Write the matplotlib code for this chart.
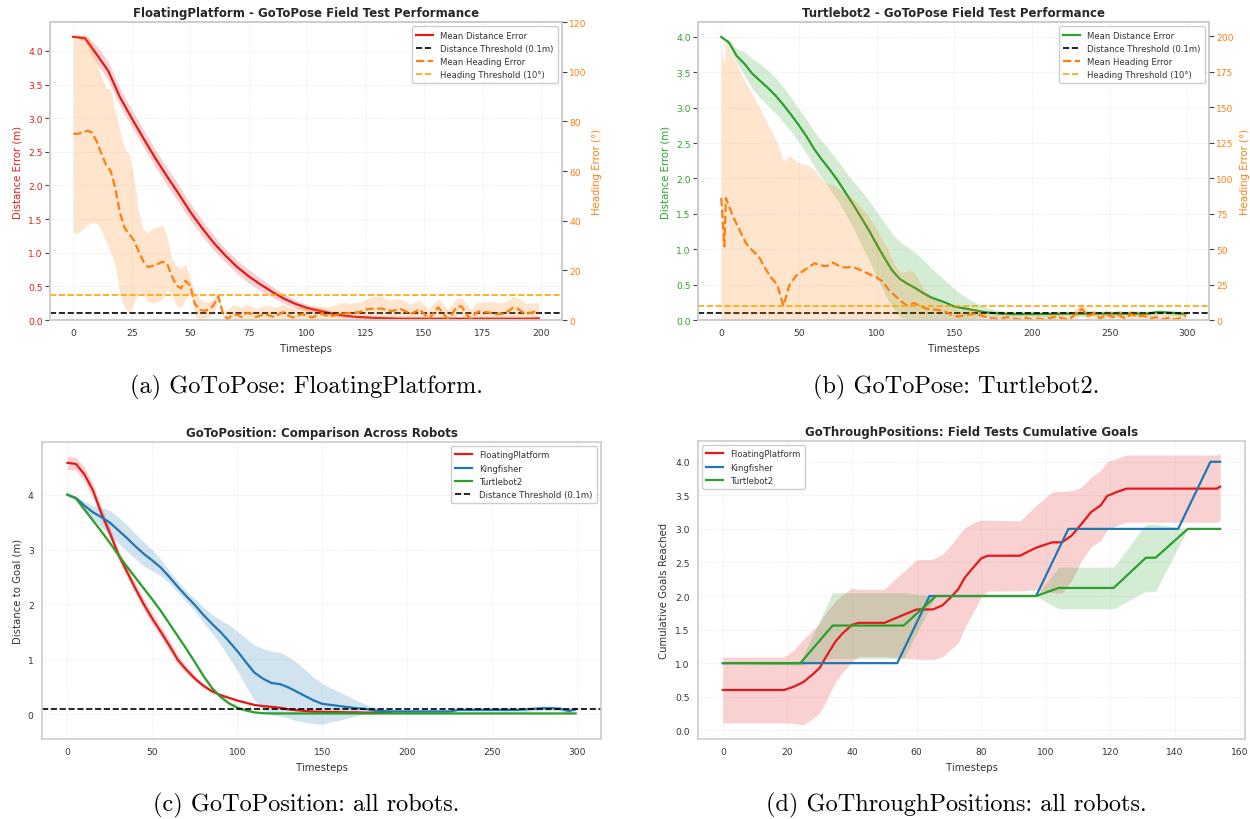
import numpy as np
import matplotlib.pyplot as plt

plt.rcParams['font.family'] = ['DejaVu Sans']

RED = '#e31a1c'
BLUE = '#1f77b4'
GREEN = '#2ca02c'
ORANGE = '#ff7f0e'
TXT = '#333333'

# ---------- (a) FloatingPlatform - GoToPose ----------
fp_pose_t = np.append(np.arange(0, 200, 5), 199)
fp_pose_dist = [4.21, 4.19, 3.95, 3.70, 3.31, 3.00, 2.70, 2.41, 2.14, 1.88,
                1.61, 1.37, 1.15, 0.96, 0.79, 0.65, 0.53, 0.42, 0.32, 0.24,
                0.18, 0.14, 0.10, 0.07, 0.05, 0.04, 0.03, 0.025, 0.02, 0.02,
                0.02, 0.02, 0.02, 0.02, 0.02, 0.02, 0.02, 0.02, 0.02, 0.02,
                0.025]
fp_pose_dist_std = [0.00, 0.05, 0.13, 0.14, 0.13, 0.13, 0.13, 0.13, 0.13, 0.13,
                    0.12, 0.12, 0.11, 0.10, 0.10, 0.10, 0.09, 0.08, 0.07, 0.06,
                    0.05, 0.05, 0.04, 0.03, 0.02, 0.02, 0.015, 0.015, 0.01, 0.01,
                    0.01, 0.01, 0.01, 0.01, 0.01, 0.01, 0.01, 0.01, 0.01, 0.01,
                    0.01]

fp_pose_head_t = np.append(np.arange(0, 200, 2), 199)
fp_pose_head = [75, 75, 75.5, 76.2, 75.5, 72, 67, 62.5, 60, 53,
                43, 37, 34.5, 32, 27.5, 23.5, 21.3, 21.8, 22.5, 23.4,
                23, 18, 14, 12.8, 15.8, 13.8, 6.5, 4.2, 3.7, 4.2,
                6, 9.5, 2.5, 0.4, 2.0, 2.2, 1.2, 2.8, 2.6, 1.2,
                1.8, 2.4, 1.8, 1.2, 2.4, 3.2, 1.8, 1.0, 1.8, 2.4,
                1.6, 1.0, 1.8, 2.6, 1.8, 1.5, 2.0, 2.4, 2.6, 2.8,
                3.0, 3.1, 3.8, 4.4, 4.6, 4.6, 4.6, 4.0, 3.6, 4.0,
                4.4, 3.6, 2.4, 3.2, 4.4, 2.5, 0.4, 2.8, 5.1, 3.0,
                0.4, 2.5, 5.4, 5.5, 2.5, 0.4, 2.8, 3.6, 3.2, 3.0,
                2.2, 2.4, 2.6, 3.6, 5.0, 4.6, 3.2, 2.6, 3.0, 3.6,
                3.6]
fp_pose_head_std = [40, 40, 39, 38, 36, 33, 31, 31, 33, 31,
                    33, 32, 32, 25, 16, 13, 14, 15, 15, 15,
                    11, 7, 8, 8, 7, 3, 5, 4.5, 3.5, 3,
                    3, 1.5, 1.5, 4, 4, 3.5, 4, 3.5, 3, 3.5,
                    3.5, 3.5, 4, 4, 3.5, 3, 3.5, 4, 3.5, 3.5,
                    3.5, 4, 3.5, 3, 3.5, 4, 4, 4.5, 4.5, 4,
                    4, 4, 4, 4.5, 5, 5.2, 5, 4.5, 4.5, 4.5,
                    4, 4, 4, 4, 3.5, 3.5, 4, 4, 3.5, 3.5,
                    4, 4, 3.5, 3.5, 4, 4, 4, 3.5, 4, 4.5,
                    5, 4.5, 4.5, 4.5, 4.5, 4.5, 4.5, 4, 4, 3.5,
                    3]

# ---------- (b) Turtlebot2 - GoToPose ----------
tb_pose_t = np.append(np.arange(0, 300, 5), 299)
tb_pose_dist = [4.00, 3.92, 3.73, 3.62, 3.48, 3.38, 3.28, 3.17, 3.04, 2.90,
                2.75, 2.59, 2.41, 2.26, 2.12, 1.97, 1.80, 1.63, 1.45, 1.27,
                1.07, 0.88, 0.70, 0.58, 0.51, 0.45, 0.38, 0.32, 0.28, 0.24,
                0.19, 0.17, 0.15, 0.13, 0.11, 0.10, 0.09, 0.085, 0.085, 0.085,
                0.085, 0.085, 0.085, 0.085, 0.09, 0.09, 0.09, 0.09, 0.09, 0.09,
                0.09, 0.09, 0.09, 0.09, 0.09, 0.09, 0.11, 0.11, 0.10, 0.09,
                0.09]
tb_pose_dist_std = [0.00, 0.04, 0.10, 0.17, 0.21, 0.24, 0.25, 0.25, 0.25, 0.24,
                    0.23, 0.24, 0.25, 0.26, 0.27, 0.28, 0.30, 0.33, 0.38, 0.42,
                    0.46, 0.50, 0.52, 0.53, 0.52, 0.50, 0.47, 0.42, 0.36, 0.30,
                    0.25, 0.19, 0.14, 0.10, 0.07, 0.05, 0.04, 0.035, 0.035, 0.035,
                    0.035, 0.035, 0.035, 0.035, 0.035, 0.035, 0.035, 0.035, 0.035, 0.035,
                    0.035, 0.035, 0.035, 0.035, 0.035, 0.035, 0.035, 0.035, 0.035, 0.035,
                    0.035]

tb_pose_head_t = np.concatenate([[0, 1, 2, 3], np.arange(4, 297, 4), [299]])
tb_pose_head = [86, 70, 52, 86,
                83, 72, 63, 54, 49, 45, 37, 30, 25, 10,
                25, 31, 34, 37, 40, 38.5, 38, 40.5, 38, 37,
                37.5, 36, 34, 32, 30, 27, 21, 17, 13, 10,
                12, 10, 8, 7.5, 7, 6, 4, 2.5, 3, 4,
                4.5, 3, 1.5, 1, 1, 2, 1, 0.5, 1.5, 0.5,
                1, 0.5, 1.5, 2.5, 1, 0.5, 4, 8, 3, 4.5,
                1, 4, 2, 3.5, 1, 4, 2.5, 3, 1, 2,
                0.5, 1.5, 0.5, 1.5,
                3]
tb_pose_head_std = [109, 114, 130, 110,
                    113, 113, 112, 113, 110, 106, 105, 104, 100, 102,
                    91, 81, 76, 72, 66, 61.5, 58, 55, 54, 52,
                    49, 46, 43, 39, 34, 29, 27, 21, 20, 25,
                    22, 16, 12, 8, 6, 5, 5, 5, 4.5, 4,
                    3.5, 3, 3, 3, 3, 3, 3, 3, 3, 3,
                    3, 3, 3, 3.5, 4, 3.5, 4, 4, 3.5, 3,
                    3, 3.5, 3.5, 4, 3.5, 3.5, 3.5, 3, 3, 3,
                    3, 3, 3, 3,
                    3]

# ---------- (c) GoToPosition ----------
fp_pos_t = np.arange(0, 191, 5)
fp_pos = [4.58, 4.56, 4.37, 4.08, 3.66, 3.30, 2.91, 2.60, 2.29, 2.00,
          1.74, 1.50, 1.25, 0.99, 0.81, 0.65, 0.52, 0.42, 0.35, 0.30,
          0.25, 0.21, 0.17, 0.15, 0.135, 0.12, 0.09, 0.075, 0.06, 0.05,
          0.045, 0.04, 0.04, 0.035, 0.035, 0.03, 0.03, 0.035, 0.04]
fp_pos_std = [0.12, 0.12, 0.13, 0.13, 0.12, 0.11, 0.10, 0.10, 0.10, 0.10,
              0.10, 0.10, 0.10, 0.09, 0.07, 0.05, 0.04, 0.03, 0.03, 0.025,
              0.02, 0.02, 0.02, 0.02, 0.02, 0.02, 0.02, 0.02, 0.02, 0.02,
              0.02, 0.02, 0.02, 0.02, 0.02, 0.02, 0.02, 0.02, 0.02]

pos_t = np.append(np.arange(0, 300, 5), 299)
kf_pos = [4.00, 3.94, 3.80, 3.68, 3.59, 3.49, 3.35, 3.21, 3.06, 2.92,
          2.80, 2.67, 2.50, 2.32, 2.15, 1.99, 1.81, 1.65, 1.50, 1.33,
          1.15, 0.95, 0.76, 0.65, 0.57, 0.55, 0.49, 0.41, 0.33, 0.25,
          0.19, 0.17, 0.15, 0.13, 0.11, 0.10, 0.07, 0.06, 0.05, 0.05,
          0.05, 0.05, 0.05, 0.05, 0.05, 0.05, 0.08, 0.08, 0.08, 0.08,
          0.08, 0.08, 0.08, 0.08, 0.09, 0.10, 0.11, 0.11, 0.10, 0.06,
          0.09]
kf_pos_std = [0.00, 0.03, 0.08, 0.12, 0.18, 0.22, 0.24, 0.24, 0.23, 0.22,
              0.19, 0.15, 0.11, 0.10, 0.10, 0.11, 0.14, 0.17, 0.22, 0.30,
              0.36, 0.44, 0.50, 0.55, 0.58, 0.58, 0.56, 0.53, 0.48, 0.42,
              0.37, 0.31, 0.26, 0.20, 0.14, 0.09, 0.06, 0.04, 0.04, 0.04,
              0.04, 0.04, 0.04, 0.04, 0.04, 0.04, 0.04, 0.04, 0.04, 0.04,
              0.04, 0.04, 0.04, 0.04, 0.04, 0.04, 0.04, 0.04, 0.04, 0.04,
              0.04]
tb_pos = [4.00, 3.93, 3.73, 3.53, 3.33, 3.12, 2.90, 2.69, 2.49, 2.29,
          2.09, 1.88, 1.65, 1.42, 1.19, 0.95, 0.70, 0.48, 0.32, 0.20,
          0.12, 0.07, 0.035, 0.02, 0.015, 0.015, 0.015, 0.015, 0.015, 0.015,
          0.015, 0.015, 0.015, 0.015, 0.015, 0.015, 0.015, 0.015, 0.015, 0.015,
          0.015, 0.015, 0.015, 0.015, 0.015, 0.015, 0.015, 0.015, 0.015, 0.015,
          0.015, 0.015, 0.015, 0.015, 0.015, 0.015, 0.015, 0.015, 0.015, 0.015,
          0.015]
tb_pos_std = [0.00, 0.02, 0.035, 0.035, 0.035, 0.035, 0.035, 0.035, 0.035, 0.035,
              0.035, 0.035, 0.035, 0.035, 0.035, 0.035, 0.035, 0.035, 0.035, 0.035,
              0.035, 0.025, 0.015, 0.01, 0.01, 0.01, 0.01, 0.01, 0.01, 0.01,
              0.01, 0.01, 0.01, 0.01, 0.01, 0.01, 0.01, 0.01, 0.01, 0.01,
              0.01, 0.01, 0.01, 0.01, 0.01, 0.01, 0.01, 0.01, 0.01, 0.01,
              0.01, 0.01, 0.01, 0.01, 0.01, 0.01, 0.01, 0.01, 0.01, 0.01,
              0.01]

# ---------- (d) GoThroughPositions ----------
fp_gtp_t = [0, 19, 22, 25, 28, 30, 32, 35, 37, 40, 42, 50, 54, 60, 65, 68, 71, 73,
            75, 78, 80, 82, 92, 97, 102, 105, 108, 111, 114, 117, 119, 122, 125, 153, 154]
fp_gtp = [0.60, 0.60, 0.65, 0.72, 0.84, 0.93, 1.10, 1.33, 1.44, 1.57, 1.60, 1.60, 1.68,
          1.80, 1.80, 1.86, 2.00, 2.11, 2.28, 2.45, 2.56, 2.60, 2.60, 2.72, 2.80, 2.80,
          2.90, 3.07, 3.25, 3.35, 3.49, 3.55, 3.60, 3.60, 3.63]
fp_gtp_std = [0.49, 0.49, 0.55, 0.64, 0.66, 0.67, 0.66, 0.60, 0.58, 0.55, 0.50, 0.50, 0.60,
              0.74, 0.75, 0.76, 0.78, 0.80, 0.74, 0.65, 0.57, 0.53, 0.52, 0.63, 0.75, 0.76,
              0.67, 0.55, 0.52, 0.52, 0.51, 0.50, 0.50, 0.50, 0.50]
kf_gtp_t = [0, 54, 64, 97, 107, 141, 151, 154]
kf_gtp = [1, 1, 2, 2, 3, 3, 4, 4]
tb_gtp_t = [0, 24, 34, 56, 66, 97, 104, 121, 131, 134, 144, 154]
tb_gtp = [1.0, 1.0, 1.56, 1.56, 2.0, 2.0, 2.12, 2.12, 2.57, 2.57, 3.0, 3.0]
tb_gtp_std = [0.0, 0.03, 0.49, 0.49, 0.0, 0.0, 0.31, 0.31, 0.5, 0.5, 0.0, 0.0]

captions = ['(a) GoToPose: FloatingPlatform.', '(b) GoToPose: Turtlebot2.',
            '(c) GoToPosition: all robots.', '(d) GoThroughPositions: all robots.']

TITLE_FS = 8.5
LABEL_FS = 7.3
TICK_FS = 6.6
LEG_FS = 6.1


def style(ax, yticks=False):
    for s in ax.spines.values():
        s.set_color('#cccccc')
        s.set_linewidth(1.2)
    ax.grid(True, color='#ececec', linestyle='--', linewidth=0.5)
    ax.set_axisbelow(True)
    ax.tick_params(axis='x', labelsize=TICK_FS, labelcolor=TXT, length=0, pad=6)
    if yticks:
        ax.tick_params(axis='y', labelsize=TICK_FS, length=3.3, width=0.8, color='#444444', pad=2)
    else:
        ax.tick_params(axis='y', labelsize=TICK_FS, labelcolor=TXT, length=0, pad=6)


def band(ax, t, m, s, color, alpha=0.2):
    m = np.asarray(m)
    s = np.asarray(s)
    ax.fill_between(t, m - s, m + s, color=color, alpha=alpha, linewidth=0)


def legend(ax, handles=None, labels=None, loc='upper right'):
    kw = dict(loc=loc, fontsize=LEG_FS, labelspacing=0.5, frameon=True,
              edgecolor='#cccccc', framealpha=0.95, borderpad=0.5)
    if handles is None:
        leg = ax.legend(**kw)
    else:
        leg = ax.legend(handles, labels, **kw)
    for txt in leg.get_texts():
        txt.set_color(TXT)
    return leg


def title(ax, s):
    ax.set_title(s, fontsize=TITLE_FS, fontweight='bold', color='#262626', pad=4)


fig = plt.figure(figsize=(12.5, 8.2), dpi=100)

# (a)
ax1 = fig.add_axes([0.040, 0.6085, 0.4096, 0.3634])
style(ax1, yticks=True)
band(ax1, fp_pose_t, fp_pose_dist, fp_pose_dist_std, RED)
ax1.plot(fp_pose_t, fp_pose_dist, color=RED, lw=1.6, label='Mean Distance Error')
ax1.axhline(0.1, color='black', ls='--', lw=1.2, label='Distance Threshold (0.1m)')
ax1.set_ylim(0, 4.43)
ax1.set_xticks(range(0, 201, 25))
ax1.tick_params(axis='y', labelcolor=RED)
ax1.set_ylabel('Distance Error (m)', color=RED, fontsize=LABEL_FS)
ax1.set_xlabel('Timesteps', color=TXT, fontsize=LABEL_FS)
title(ax1, 'FloatingPlatform - GoToPose Field Test Performance')
ax2 = ax1.twinx()
style(ax2, yticks=True)
ax2.grid(False)
band(ax2, fp_pose_head_t, fp_pose_head, fp_pose_head_std, ORANGE)
ax2.plot(fp_pose_head_t, fp_pose_head, color=ORANGE, ls='--', lw=1.6, label='Mean Heading Error')
ax2.axhline(10, color='orange', ls='--', lw=1.2, label='Heading Threshold (10°)')
ax2.set_ylim(0, 120)
ax2.set_yticks(range(0, 121, 20))
ax2.tick_params(axis='y', labelcolor=ORANGE)
ax2.set_ylabel('Heading Error (°)', color=ORANGE, fontsize=LABEL_FS)
h1, l1 = ax1.get_legend_handles_labels()
h2, l2 = ax2.get_legend_handles_labels()
legend(ax2, h1 + h2, l1 + l2)

# (b)
bx1 = fig.add_axes([0.5584, 0.6085, 0.4088, 0.3634])
style(bx1, yticks=True)
band(bx1, tb_pose_t, tb_pose_dist, tb_pose_dist_std, GREEN)
bx1.plot(tb_pose_t, tb_pose_dist, color=GREEN, lw=1.6, label='Mean Distance Error')
bx1.axhline(0.1, color='black', ls='--', lw=1.2, label='Distance Threshold (0.1m)')
bx1.set_ylim(0, 4.21)
bx1.set_xticks(range(0, 301, 50))
bx1.tick_params(axis='y', labelcolor=GREEN)
bx1.set_ylabel('Distance Error (m)', color=GREEN, fontsize=LABEL_FS)
bx1.set_xlabel('Timesteps', color=TXT, fontsize=LABEL_FS)
title(bx1, 'Turtlebot2 - GoToPose Field Test Performance')
bx2 = bx1.twinx()
style(bx2, yticks=True)
bx2.grid(False)
band(bx2, tb_pose_head_t, tb_pose_head, tb_pose_head_std, ORANGE)
bx2.plot(tb_pose_head_t, tb_pose_head, color=ORANGE, ls='--', lw=1.6, label='Mean Heading Error')
bx2.axhline(10, color='orange', ls='--', lw=1.2, label='Heading Threshold (10°)')
bx2.set_ylim(0, 210)
bx2.set_yticks(range(0, 201, 25))
bx2.tick_params(axis='y', labelcolor=ORANGE)
bx2.set_ylabel('Heading Error (°)', color=ORANGE, fontsize=LABEL_FS)
h1, l1 = bx1.get_legend_handles_labels()
h2, l2 = bx2.get_legend_handles_labels()
legend(bx2, h1 + h2, l1 + l2)

# (c)
cx = fig.add_axes([0.0336, 0.0976, 0.4472, 0.3622])
style(cx)
band(cx, fp_pos_t, fp_pos, fp_pos_std, RED)
cx.plot(fp_pos_t, fp_pos, color=RED, lw=1.6, label='FloatingPlatform')
band(cx, pos_t, kf_pos, kf_pos_std, BLUE)
cx.plot(pos_t, kf_pos, color=BLUE, lw=1.6, label='Kingfisher')
band(cx, pos_t, tb_pos, tb_pos_std, GREEN)
cx.plot(pos_t, tb_pos, color=GREEN, lw=1.6, label='Turtlebot2')
cx.axhline(0.1, color='black', ls='--', lw=1.2, label='Distance Threshold (0.1m)')
cx.set_ylim(-0.45, 4.96)
cx.set_xticks(range(0, 301, 50))
cx.set_ylabel('Distance to Goal (m)', color=TXT, fontsize=LABEL_FS)
cx.set_xlabel('Timesteps', color=TXT, fontsize=LABEL_FS)
title(cx, 'GoToPosition: Comparison Across Robots')
legend(cx)

# (d)
dx = fig.add_axes([0.5584, 0.0976, 0.4376, 0.3634])
style(dx)
band(dx, fp_gtp_t, fp_gtp, fp_gtp_std, RED)
dx.plot(fp_gtp_t, fp_gtp, color=RED, lw=1.6, label='FloatingPlatform')
dx.plot(kf_gtp_t, kf_gtp, color=BLUE, lw=1.6, label='Kingfisher')
band(dx, tb_gtp_t, tb_gtp, tb_gtp_std, GREEN)
dx.plot(tb_gtp_t, tb_gtp, color=GREEN, lw=1.6, label='Turtlebot2')
dx.set_ylim(-0.13, 4.31)
dx.set_xticks(range(0, 161, 20))
dx.set_ylabel('Cumulative Goals Reached', color=TXT, fontsize=LABEL_FS)
dx.set_xlabel('Timesteps', color=TXT, fontsize=LABEL_FS)
title(dx, 'GoThroughPositions: Field Tests Cumulative Goals')
legend(dx, loc='upper left')

# captions
for (cxp, cyp), cap in zip([(306, 387), (956, 387), (306, 805), (956, 805)], captions):
    fig.text(cxp / 1250, 1 - cyp / 820, cap, ha='center', va='center',
             fontsize=17.5, family='cmr10', color='black')

fig.savefig('out.png', dpi=100)
